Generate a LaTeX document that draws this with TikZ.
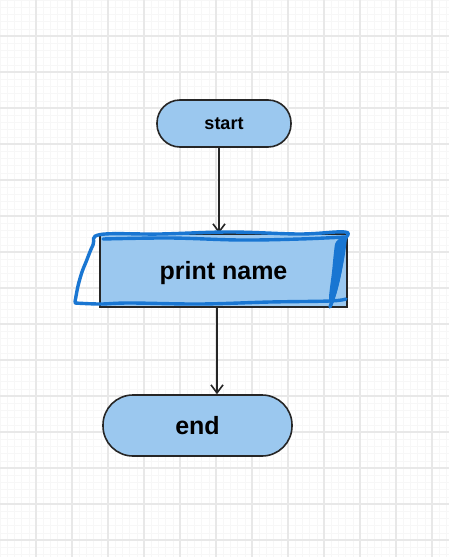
\documentclass[tikz,border=0pt]{standalone}
\usepackage{fontspec}
\setmainfont{Liberation Sans}
\usetikzlibrary{arrows.meta}
\definecolor{boxfill}{HTML}{9BC8EF}
\definecolor{boxline}{HTML}{262626}
\definecolor{scrib}{HTML}{1976D2}
\definecolor{gmajor}{HTML}{E8E8E8}
\definecolor{gminor}{HTML}{F7F7F7}
\tikzset{
  flowbox/.style={draw=boxline, line width=1.6pt, fill=boxfill, text=black, font=\bfseries, inner sep=0pt},
  arr/.style={draw=boxline, line width=1.5pt, -{Straight Barb[length=8pt,width=12pt,line width=1.6pt]}},
  scribble/.style={draw=scrib, line width=3.4pt, line cap=round, line join=round},
  majorgrid/.style={draw=gmajor, line width=1.6pt},
  minorgrid/.style={draw=gminor, line width=0.4pt}
}
\begin{document}
\begin{tikzpicture}[x=1pt,y=-1pt]
\useasboundingbox (0,0) rectangle (449,557);
\fill[white] (0,0) rectangle (449,557);
\foreach \i in {0,...,62} \draw[minorgrid] (\i*7.2,0) -- (\i*7.2,557);
\foreach \j in {0,...,77} \draw[minorgrid] (0,\j*7.2) -- (449,\j*7.2);
\foreach \i in {36,72,...,432} \draw[majorgrid] (\i,0) -- (\i,557);
\foreach \j in {36,72,...,540} \draw[majorgrid] (0,\j) -- (449,\j);

\node[flowbox, minimum width=134pt, minimum height=47pt, rounded corners=23pt, font=\bfseries\fontsize{18}{20}\selectfont] (start) at (224,123.5) {start};
\node[flowbox, minimum width=247pt, minimum height=73pt, text height=23pt, text depth=5pt, font=\bfseries\fontsize{25}{28}\selectfont] (print) at (223.5,270.5) {print name};
\node[flowbox, minimum width=189pt, minimum height=61pt, rounded corners=30pt, font=\bfseries\fontsize{25}{28}\selectfont] (end) at (197.5,425.5) {end};

\coordinate (a1) at (219,0);
\coordinate (a2) at (217,0);
\draw[arr] (start.south -| a1) -- (print.north -| a1);
\draw[arr] (print.south -| a2) -- (end.north -| a2);

% freehand highlight round the print box
\draw[scribble] plot[smooth, tension=0.6] coordinates {(75,302) (78,286) (82,272) (86,262) (93,245) (100.5,234.5) (160,234) (230,232) (300,234) (345,232) (345,240) (343,255) (339,275) (335,292) (330,307)};
\draw[scribble] plot[smooth, tension=0.6] coordinates {(103,239) (170,238) (240,240) (300,239) (345,237)};
\draw[scribble] plot[smooth, tension=0.6] coordinates {(75,303) (100,304) (130,303) (200,304) (270,302) (330,301) (346,299)};
\fill[scrib] plot[smooth cycle, tension=0.5] coordinates {(336,242) (345,236) (344,258) (339,284) (332,306) (329,298) (332,272) (334,252)};
\end{tikzpicture}
\end{document}
